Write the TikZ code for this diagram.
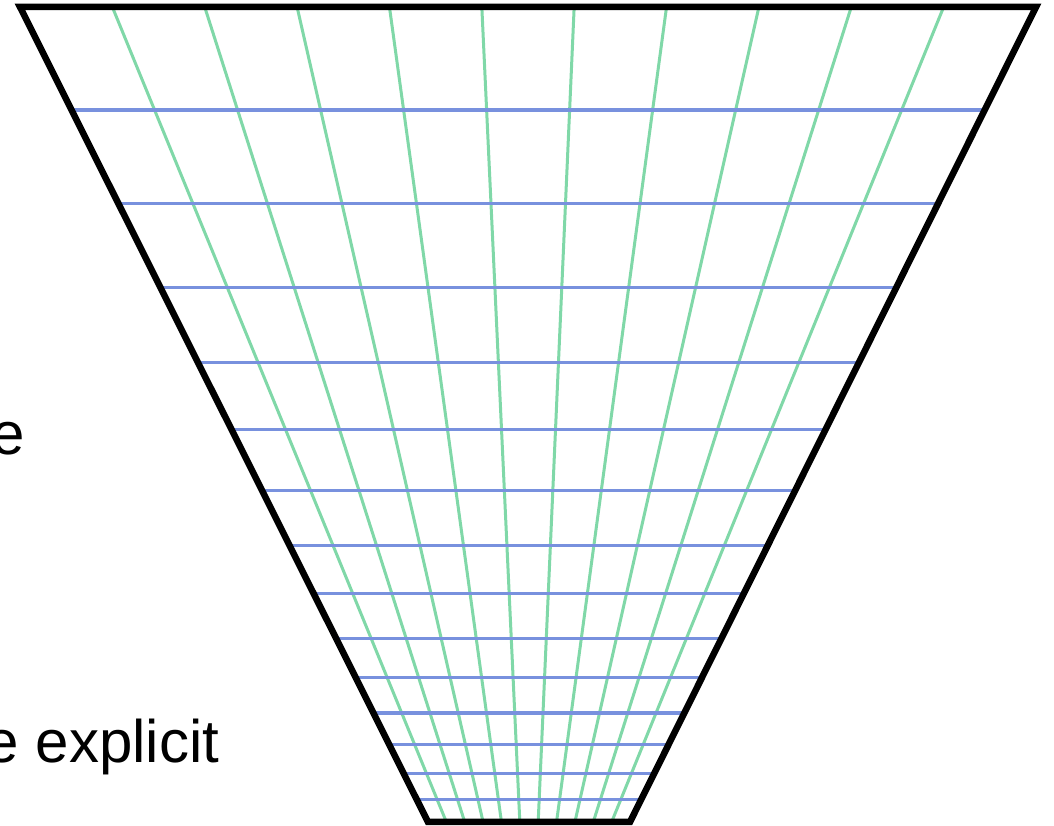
\documentclass[tikz,border=0pt]{standalone}
\usepackage{fontspec}
\setmainfont{Liberation Sans}
\usetikzlibrary{calc}
\definecolor{gridgreen}{RGB}{128,216,168}
\definecolor{gridblue}{RGB}{120,145,222}
\tikzset{
  greenline/.style={draw=gridgreen, line width=3pt},
  blueline/.style={draw=gridblue, line width=3.2pt},
  border/.style={draw=black, line width=6.5pt, line join=miter},
  bigtext/.style={font=\fontsize{60}{72}\selectfont, inner sep=0pt, text=black}
}
\begin{document}
\begin{tikzpicture}[x=1pt,y=1pt]
\useasboundingbox (0,0) rectangle (1054,826);
\clip (0,0) rectangle (1054,826);
\fill[white] (0,0) rectangle (1054,826);
\coordinate (TL) at (20,819);
\coordinate (TR) at (1036,819);
\coordinate (BL) at (428,4);
\coordinate (BR) at (630,4);
% radial (green) lines
\foreach \k in {1,...,10}{
  \draw[greenline] ($(TL)!\k/11!(TR)$) -- ($(BL)!\k/11!(BR)$);
}
% horizontal (blue) lines
\foreach \py in {110,203.3,287.3,362.3,429.7,490.7,545.3,593.7,638.3,677.3,713,744.7,773.3,799.3}{
  \pgfmathsetmacro{\t}{(\py-7)/815}
  \draw[blueline] ($(TL)!\t!(BL)$) -- ($(TR)!\t!(BR)$);
}
% border
\draw[border] (TL) -- (TR) -- (BR) -- (BL) -- cycle;
% texts
\node[bigtext, anchor=base east] (t1) at (25,371) {e};
\node[bigtext, anchor=base east] (t2) at (219.5,63) {e explicit};
\end{tikzpicture}
\end{document}
